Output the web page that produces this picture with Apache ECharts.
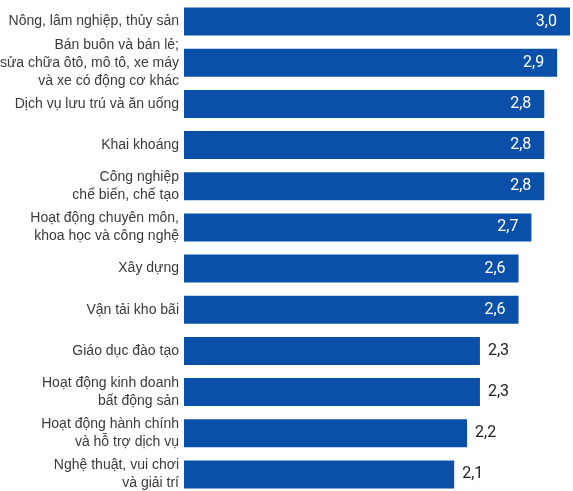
<!DOCTYPE html>
<html><head><meta charset="utf-8">
<script src="https://cdn.jsdelivr.net/npm/echarts@6/dist/echarts.min.js"></script>
<style>html,body{margin:0;padding:0;background:#fff}#c{width:573px;height:491px}</style>
</head><body><div id="c"></div>
<script>
const categories = [
  "Nông, lâm nghiệp, thủy sản",
  "Bán buôn và bán lẻ;\nsửa chữa ôtô, mô tô, xe máy\nvà xe có động cơ khác",
  "Dịch vụ lưu trú và ăn uống",
  "Khai khoáng",
  "Công nghiệp\nchế biến, chế tạo",
  "Hoạt động chuyên môn,\nkhoa học và công nghệ",
  "Xây dựng",
  "Vận tải kho bãi",
  "Giáo dục đào tạo",
  "Hoạt động kinh doanh\nbất động sản",
  "Hoạt động hành chính\nvà hỗ trợ dịch vụ",
  "Nghệ thuật, vui chơi\nvà giải trí"
];
const values = [3.0, 2.9, 2.8, 2.8, 2.8, 2.7, 2.6, 2.6, 2.3, 2.3, 2.2, 2.1];
const insideThreshold = 2.5;

const chart = echarts.init(document.getElementById('c'), null, {renderer: 'canvas'});
const data = values.map(v => {
  const inside = v >= insideThreshold;
  return {
    value: v,
    label: inside
      ? {position: 'insideRight', distance: 13, color: '#ffffff'}
      : {position: 'right', distance: 8, color: '#222222'}
  };
});
chart.setOption({
  animation: false,
  grid: {left: 184, right: 3, top: 1, height: 494, containLabel: false, outerBoundsMode: 'none'},
  xAxis: {
    type: 'value', min: 0, max: 3.0,
    show: false
  },
  yAxis: {
    type: 'category', inverse: true, data: categories,
    axisLine: {show: false}, axisTick: {show: false},
    axisLabel: {
      margin: 5, align: 'right',
      fontFamily: 'Liberation Sans, Arial',
      fontSize: 14, lineHeight: 18, color: '#3a3a3a'
    }
  },
  series: [{
    type: 'bar', data: data, barWidth: 28,
    itemStyle: {color: '#0a4fa8'},
    label: {
      show: true,
      fontFamily: 'Roboto, Arial', fontSize: 16,
      formatter: p => p.value.toFixed(1).replace('.', ',')
    }
  }]
});
</script></body></html>
